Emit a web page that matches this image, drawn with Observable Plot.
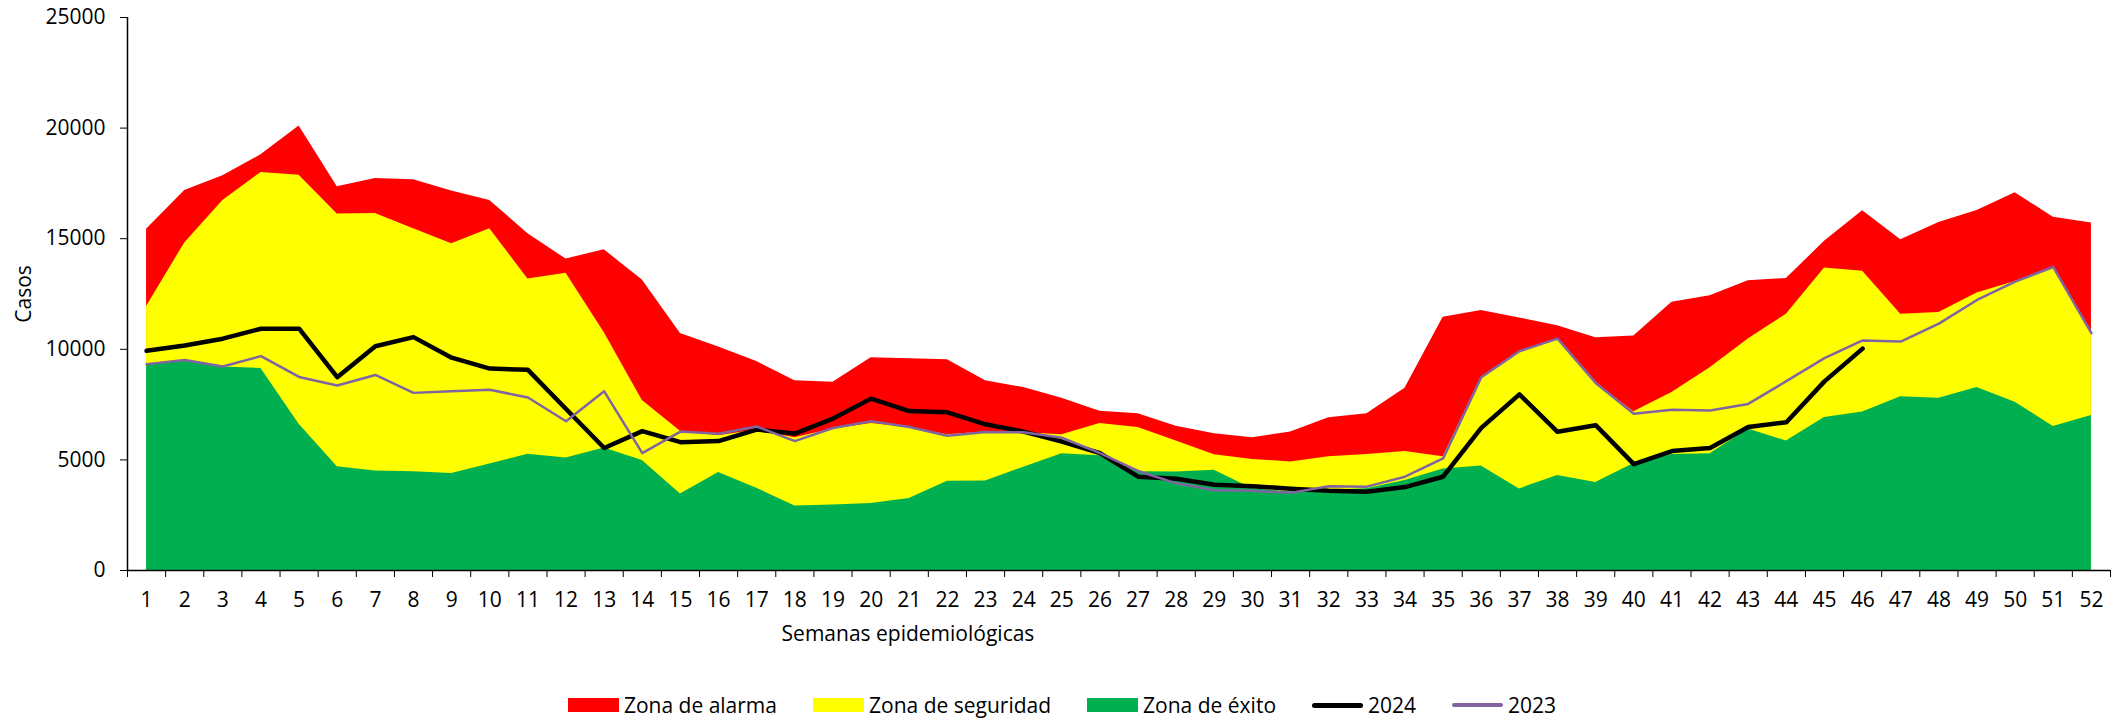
<!DOCTYPE html>
<html>
<head>
<meta charset="utf-8">
<script src="https://cdn.jsdelivr.net/npm/d3@7"></script>
<script src="https://cdn.jsdelivr.net/npm/@observablehq/plot@0.6"></script>
<style>
  body { margin: 0; background: #fff; font-family: "Open Sans", sans-serif; color: #000; }
  #wrap { position: relative; width: 2113px; height: 720px; }
  #xtitle { position: absolute; top: 619px; left: 0; width: 1816px; text-align: center; font-size: 21px; line-height: 28px; }
  #legend { position: absolute; top: 692px; left: 12px; width: 2100px; height: 26px; display: flex; justify-content: center; align-items: center; font-size: 21px; line-height: 26px; }
  .item { display: flex; align-items: center; margin: 0 18px; white-space: nowrap; }
  .sw { width: 51px; height: 14px; margin-right: 5px; }
  .ln { width: 51px; margin-right: 5px; border-radius: 3px; }
</style>
</head>
<body>
<div id="wrap">
  <div id="chart"></div>
  <div id="xtitle">Semanas epidemiológicas</div>
  <div id="legend"></div>
</div>
<script>
const weeks = [1,2,3,4,5,6,7,8,9,10,11,12,13,14,15,16,17,18,19,20,21,22,23,24,25,26,
  27,28,29,30,31,32,33,34,35,36,37,38,39,40,41,42,43,44,45,46,47,48,49,50,51,52];

const zonaAlarma = [15430,17180,17850,18790,20100,17350,17720,17660,17160,16730,15220,14080,14500,13130,
  10710,10100,9450,8580,8510,9620,9570,9530,8580,8270,7790,7200,7090,6520,6180,6000,6260,6900,7090,8240,
  11450,11750,11420,11060,10520,10600,12130,12420,13100,13200,14880,16260,14950,15730,16280,17080,15970,15710];

const zonaSeguridad = [11940,14810,16730,17990,17870,16120,16140,15450,14770,15450,13180,13440,10760,7680,
  6300,6090,6350,6000,6400,6650,6480,6140,6260,6230,6140,6640,6470,5850,5230,5020,4910,5140,5240,5380,
  5140,8740,9910,10480,8480,7180,8050,9170,10470,11590,13680,13530,11590,11660,12540,13060,13720,10730];

const zonaExito = [9310,9450,9200,9130,6610,4690,4500,4460,4390,4810,5260,5090,5540,4970,
  3460,4430,3720,2920,2960,3030,3250,4030,4050,4670,5280,5190,4460,4450,4530,3700,3550,3630,3700,4070,
  4590,4720,3690,4290,3980,4840,5240,5280,6400,5850,6920,7160,7850,7790,8270,7610,6510,7010];

const casos2024 = [9930,10170,10480,10930,10930,8740,10140,10550,9620,9130,9070,7300,5540,6300,
  5800,5850,6370,6190,6870,7770,7210,7150,6610,6280,5830,5310,4240,4150,3880,3810,3700,3600,3560,3770,
  4240,6450,7960,6270,6570,4810,5400,5540,6490,6700,8550,10030];

const casos2023 = [9330,9520,9220,9690,8750,8360,8840,8030,8100,8170,7820,6750,8100,5310,
  6280,6180,6510,5850,6440,6750,6490,6090,6260,6250,6000,5310,4500,3940,3630,3600,3510,3810,3790,4240,
  5070,8740,9910,10480,8480,7090,7270,7230,7530,8560,9600,10400,10350,11160,12230,13060,13720,10730];

const yTicks = [0,5000,10000,15000,20000,25000];
const weekBounds = [0.5,1.5,2.5,3.5,4.5,5.5,6.5,7.5,8.5,9.5,10.5,11.5,12.5,13.5,14.5,15.5,16.5,17.5,18.5,19.5,
  20.5,21.5,22.5,23.5,24.5,25.5,26.5,27.5,28.5,29.5,30.5,31.5,32.5,33.5,34.5,35.5,36.5,37.5,38.5,39.5,40.5,
  41.5,42.5,43.5,44.5,45.5,46.5,47.5,48.5,49.5,50.5,51.5,52.5];

const series = [
  {name: "Zona de alarma", type: "area", color: "#FF0000", values: zonaAlarma},
  {name: "Zona de seguridad", type: "area", color: "#FFFF00", values: zonaSeguridad},
  {name: "Zona de éxito", type: "area", color: "#00B050", values: zonaExito},
  {name: "2024", type: "line", color: "#000000", width: 4.5, values: casos2024},
  {name: "2023", type: "line", color: "#8064A2", width: 2.5, values: casos2023}
];

const marks = [];
for (const s of series) {
  const data = s.values.map((v, i) => ({week: weeks[i], v}));
  if (s.type === "area") {
    marks.push(Plot.areaY(data, {x: "week", y: "v", fill: s.color, curve: "linear"}));
  }
}
for (const s of series) {
  const data = s.values.map((v, i) => ({week: weeks[i], v}));
  if (s.type === "line") {
    marks.push(Plot.line(data, {x: "week", y: "v", stroke: s.color, strokeWidth: s.width,
      strokeLinejoin: "round", strokeLinecap: "round", curve: "linear"}));
  }
}

const chart = Plot.plot({
  width: 2113,
  height: 672,
  marginLeft: 127,
  marginRight: 3,
  marginTop: 17,
  marginBottom: 102,
  style: {fontFamily: "'Open Sans', sans-serif", fontSize: "21px", color: "#000", background: "#fff"},
  x: {domain: [0.5, 52.5], axis: null},
  y: {domain: [0, 25000], axis: null},
  marks: [
    ...marks,
    Plot.axisY({ticks: yTicks, tickSize: 7, tickPadding: 15, tickFormat: d => String(d),
      label: "Casos", labelAnchor: "center", labelOffset: 111, labelArrow: "none", fontSize: 21}),
    Plot.axisX({ticks: weeks, tickSize: 0, tickPadding: 22, tickFormat: d => String(d), label: null, fontSize: 21}),
    Plot.axisX({ticks: weekBounds, tickSize: 7, tickFormat: () => "", label: null}),
    Plot.ruleY([0], {stroke: "#000", strokeWidth: 1.5}),
    Plot.ruleX([0.5], {y1: 0, y2: 25000, stroke: "#000", strokeWidth: 1.5})
  ]
});
document.getElementById("chart").appendChild(chart);

const legend = document.getElementById("legend");
for (const s of series) {
  const item = document.createElement("div");
  item.className = "item";
  const sw = document.createElement("div");
  if (s.type === "area") {
    sw.className = "sw";
    sw.style.background = s.color;
  } else {
    sw.className = "ln";
    sw.style.height = (s.name === "2024" ? 5 : 3.5) + "px";
    sw.style.background = s.color;
  }
  const label = document.createElement("span");
  label.textContent = s.name;
  item.appendChild(sw);
  item.appendChild(label);
  legend.appendChild(item);
}
</script>
</body>
</html>
